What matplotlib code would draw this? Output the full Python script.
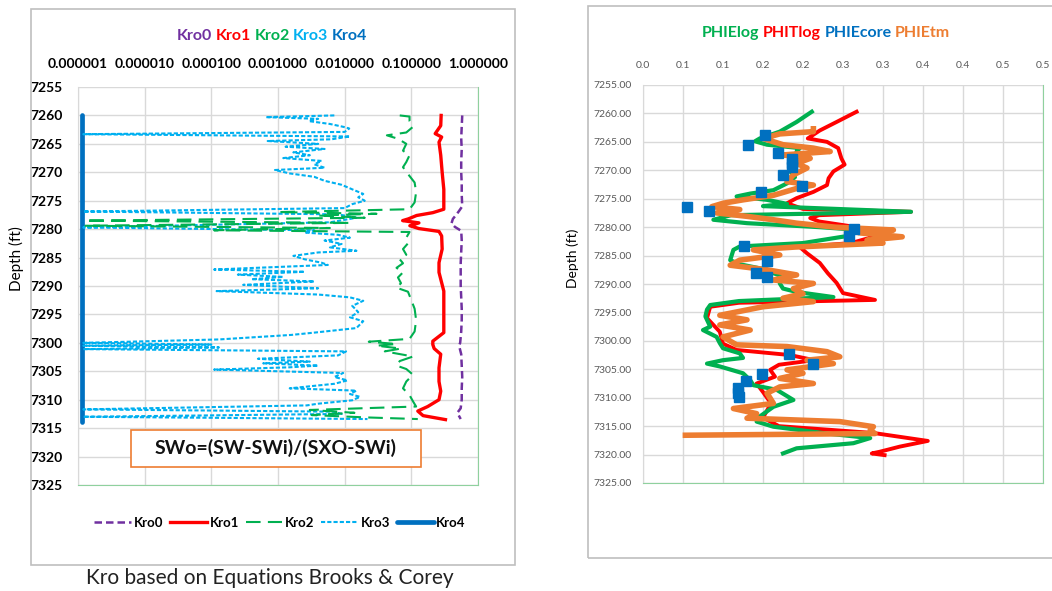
import matplotlib
matplotlib.use('Agg')
import matplotlib.pyplot as plt
from matplotlib.patches import Rectangle
from matplotlib.ticker import NullLocator

plt.rcParams['font.family'] = ['Lato', 'DejaVu Sans']

# ---------------- data: left panel (Kro vs depth) ----------------
depth_kro0 = [7260, 7262, 7264, 7266, 7268, 7270, 7272, 7274, 7276, 7276.8, 7277.5, 7278.2,
              7279.0, 7279.6, 7280.3, 7282, 7284, 7286, 7288, 7290, 7292, 7294, 7296, 7298,
              7300, 7300.5, 7302, 7304, 7306, 7308, 7310, 7311.5, 7312.3, 7313.4]
kro0 = [0.58, 0.57, 0.56, 0.57, 0.56, 0.56, 0.57, 0.57, 0.58, 0.52, 0.47, 0.42,
        0.40, 0.45, 0.56, 0.57, 0.56, 0.55, 0.55, 0.55, 0.56, 0.57, 0.57, 0.56,
        0.54, 0.52, 0.56, 0.57, 0.58, 0.57, 0.57, 0.55, 0.49, 0.55]

depth_kro1 = [7260.0, 7261.8, 7263.2, 7263.8, 7264.7, 7267.0, 7270.0, 7273.0, 7276.5, 7277.1,
              7277.6, 7278.2, 7278.5, 7278.9, 7279.4, 7279.9, 7280.4, 7281.2, 7283.5, 7285.9,
              7287.6, 7290.9, 7294.7, 7298.2, 7299.7, 7300.3, 7301.0, 7302.0, 7304.4, 7306.8,
              7308.5, 7310.0, 7311.2, 7312.0, 7312.8, 7313.5]
kro1 = [0.28, 0.276, 0.228, 0.285, 0.26, 0.276, 0.29, 0.307, 0.307, 0.21,
        0.12, 0.09, 0.074, 0.13, 0.095, 0.13, 0.26, 0.285, 0.29, 0.26,
        0.26, 0.307, 0.307, 0.307, 0.21, 0.21, 0.22, 0.276, 0.26, 0.26,
        0.276, 0.26, 0.176, 0.125, 0.15, 0.325]

depth_kro2 = [7260.0, 7260.2, 7261.0, 7262.0, 7263.0, 7263.5, 7264.1, 7265.0, 7266.2, 7267.0,
              7268.2, 7269.1, 7270.3, 7271.8, 7273.5, 7275.3, 7276.5, 7277.0, 7277.3, 7277.6,
              7278.0, 7278.5, 7278.9, 7279.4, 7279.8, 7280.2, 7280.5, 7281.5, 7282.5, 7283.5,
              7284.5, 7285.3, 7286.0, 7286.8, 7287.6, 7288.5, 7289.5, 7290.3, 7291.0, 7292.5,
              7294.0, 7296.0, 7298.0, 7299.3, 7299.8, 7300.2, 7300.5, 7301.0, 7301.5, 7302.4,
              7303.2, 7304.0, 7304.6, 7305.6, 7306.8, 7308.0, 7309.2, 7310.3, 7311.2, 7311.8,
              7312.3, 7312.7, 7313.1, 7313.4]
kro2 = [0.067, 0.094, 0.094, 0.106, 0.084, 0.043, 0.063, 0.084, 0.075, 0.094,
        0.084, 0.075, 0.089, 0.112, 0.118, 0.112, 0.094, 0.001, 0.03, 0.004,
        0.02, 1.3e-6, 0.012, 1.3e-6, 0.006, 1.1e-4, 0.094, 0.084, 0.089, 0.075,
        0.084, 0.067, 0.075, 0.06, 0.075, 0.063, 0.07, 0.06, 0.089, 0.1,
        0.112, 0.118, 0.112, 0.094, 0.023, 0.06, 0.03, 0.07, 0.04, 0.106,
        0.067, 0.06, 0.084, 0.106, 0.084, 0.075, 0.094, 0.106, 0.118, 0.003,
        0.014, 0.0032, 0.0195, 0.125]

depth_kro3 = [7260.0, 7260.3, 7260.6, 7261.0, 7261.5, 7262.0, 7262.3, 7262.9, 7263.3, 7263.7,
              7264.2, 7264.5, 7265.0, 7265.5, 7265.9, 7266.5, 7267.0, 7267.5, 7268.0, 7268.6,
              7269.2, 7269.6, 7270.2, 7270.8, 7271.5, 7272.2, 7273.0, 7273.8, 7274.4, 7275.0,
              7275.6, 7276.3, 7276.9, 7277.4, 7278.0, 7278.8, 7279.7, 7280.2, 7280.6, 7281.0,
              7281.5, 7282.0, 7282.6, 7283.2, 7283.8, 7284.1, 7284.7, 7285.3, 7285.9, 7286.3,
              7287.1, 7287.5, 7288.0, 7288.4, 7288.8, 7289.2, 7289.8, 7290.4, 7290.9, 7291.5,
              7292.0, 7292.6, 7293.5, 7294.6, 7295.5, 7296.2, 7297.4, 7298.2, 7298.6, 7299.4,
              7300.0, 7300.3, 7300.5, 7300.8, 7301.1, 7301.5, 7302.2, 7302.8, 7303.3, 7303.6,
              7304.0, 7304.3, 7304.7, 7305.3, 7306.0, 7306.6, 7307.2, 7308.0, 7308.4, 7309.0,
              7309.5, 7310.1, 7310.7, 7311.0, 7311.7, 7312.1, 7312.5, 7313.0, 7313.4]
kro3 = [0.007, 0.00066, 0.004, 0.0029, 0.006, 0.0095, 0.0117, 0.01, 1.2e-6, 0.012,
        0.0063, 0.0007, 0.004, 0.0013, 0.005, 0.0017, 0.003, 0.0012, 0.0045, 0.0035,
        0.005, 0.0009, 0.0015, 0.0035, 0.005, 0.009, 0.013, 0.019, 0.016, 0.02,
        0.013, 0.01, 1.2e-6, 0.008, 0.015, 0.006, 1.2e-6, 0.0035, 0.0025, 0.008,
        0.012, 0.005, 0.009, 0.006, 0.015, 0.004, 0.0017, 0.0025, 0.0045, 0.0056,
        1.1e-4, 0.0025, 0.00025, 0.0012, 0.0004, 0.0035, 0.0003, 0.004, 0.00012, 0.004,
        0.012, 0.019, 0.013, 0.016, 0.012, 0.019, 0.015, 0.0035, 0.0016, 0.00013,
        1.2e-6, 0.0001, 1.2e-6, 0.00013, 1.2e-6, 0.0105, 0.008, 0.0005, 0.003, 0.0006,
        0.004, 0.0015, 0.00011, 0.0095, 0.007, 0.011, 0.007, 0.0015, 0.015, 0.012,
        0.017, 0.013, 0.004, 0.0027, 1.2e-6, 0.0067, 0.009, 1.2e-6, 0.022]

depth_kro4 = [7260, 7314]
kro4 = [1.15e-6, 1.15e-6]

kro_ticks = [1e-6, 1e-5, 1e-4, 1e-3, 1e-2, 1e-1, 1.0]
depth_ticks = list(range(7255, 7330, 5))

# ---------------- data: right panel (porosity vs depth) ----------------
depth_phie = [7259.7, 7261.5, 7263.2, 7264.4, 7264.9, 7265.5, 7266.1, 7266.7, 7267.9, 7269.6,
              7270.2, 7271.2, 7272.3, 7273.5, 7274.1, 7274.6, 7275.2, 7275.9, 7276.3, 7277.3,
              7277.9, 7278.7, 7279.3, 7280.0, 7280.4, 7281.5, 7282.8, 7283.4, 7284.0, 7285.8,
              7286.5, 7287.5, 7288.1, 7288.7, 7289.9, 7290.8, 7291.4, 7292.3, 7293.0, 7293.7,
              7294.5, 7295.7, 7297.5, 7298.1, 7299.3, 7300.4, 7301.3, 7302.2, 7303.0, 7303.4,
              7304.0, 7304.5, 7305.7, 7306.9, 7307.8, 7308.6, 7310.4, 7311.6, 7313.3, 7314.2,
              7315.1, 7316.3, 7317.1, 7318.0, 7318.9, 7319.8]
phie_log = [0.211, 0.192, 0.171, 0.146, 0.14, 0.155, 0.196, 0.192, 0.2, 0.188,
            0.184, 0.19, 0.18, 0.163, 0.134, 0.117, 0.155, 0.18, 0.15, 0.335,
            0.11, 0.088, 0.13, 0.22, 0.262, 0.258, 0.2, 0.121, 0.113, 0.109,
            0.12, 0.155, 0.163, 0.175, 0.171, 0.175, 0.192, 0.238, 0.12, 0.084,
            0.08, 0.078, 0.084, 0.075, 0.092, 0.096, 0.1, 0.121, 0.125, 0.1,
            0.08, 0.096, 0.125, 0.134, 0.138, 0.167, 0.188, 0.163, 0.146, 0.142,
            0.163, 0.23, 0.284, 0.263, 0.192, 0.175]

depth_phit = [7259.7, 7261.5, 7263.0, 7264.4, 7265.0, 7266.1, 7267.9, 7269.0, 7270.2, 7271.4,
              7272.6, 7273.8, 7274.9, 7275.8, 7276.8, 7277.3, 7277.9, 7278.4, 7279.0, 7280.0,
              7281.7, 7282.8, 7283.5, 7284.6, 7286.3, 7288.1, 7289.8, 7291.6, 7292.8, 7293.3,
              7294.0, 7296.0, 7298.4, 7300.5, 7301.6, 7302.5, 7303.4, 7304.2, 7305.1, 7306.3,
              7307.5, 7309.0, 7311.0, 7313.5, 7315.0, 7316.2, 7317.6, 7318.6, 7319.5, 7319.8,
              7320.1]
phit_log = [0.267, 0.242, 0.221, 0.206, 0.23, 0.244, 0.248, 0.252, 0.238, 0.232,
            0.23, 0.213, 0.192, 0.18, 0.2, 0.335, 0.22, 0.209, 0.22, 0.267,
            0.288, 0.26, 0.196, 0.205, 0.221, 0.231, 0.242, 0.25, 0.29, 0.12,
            0.084, 0.08, 0.096, 0.1, 0.117, 0.184, 0.214, 0.17, 0.159, 0.165,
            0.142, 0.15, 0.16, 0.15, 0.17, 0.288, 0.356, 0.321, 0.296, 0.286,
            0.302]

depth_tm = [7262.7, 7263.2, 7263.6, 7264.4, 7265.5, 7266.1, 7266.7, 7267.3, 7267.9, 7268.8,
            7269.6, 7270.8, 7272.0, 7272.6, 7273.2, 7274.4, 7275.2, 7275.8, 7276.4, 7276.9,
            7277.5, 7278.1, 7278.7, 7279.3, 7280.0, 7280.5, 7281.0, 7281.7, 7282.3, 7282.8,
            7283.5, 7284.0, 7284.9, 7285.8, 7286.7, 7287.5, 7288.4, 7289.3, 7289.9, 7290.8,
            7291.7, 7292.5, 7293.1, 7294.0, 7295.5, 7296.3, 7297.2, 7298.1, 7299.3, 7300.7,
            7301.0, 7301.9, 7302.8, 7303.4, 7304.0, 7305.1, 7305.7, 7306.6, 7307.5, 7308.1,
            7309.2, 7311.0, 7311.9, 7312.8, 7313.6, 7314.2, 7315.1, 7315.7, 7316.3, 7316.6]
phie_tm = [0.213, 0.213, 0.171, 0.15, 0.175, 0.213, 0.234, 0.175, 0.209, 0.192,
           0.205, 0.188, 0.18, 0.213, 0.192, 0.163, 0.125, 0.1, 0.086, 0.121,
           0.092, 0.13, 0.163, 0.192, 0.24, 0.313, 0.27, 0.324, 0.28, 0.3,
           0.19, 0.138, 0.171, 0.121, 0.109, 0.155, 0.192, 0.163, 0.213, 0.188,
           0.2, 0.175, 0.213, 0.15, 0.096, 0.13, 0.096, 0.134, 0.1, 0.117,
           0.18, 0.23, 0.246, 0.205, 0.238, 0.18, 0.2, 0.171, 0.213, 0.171,
           0.155, 0.163, 0.113, 0.142, 0.13, 0.246, 0.288, 0.284, 0.29, 0.053]

depth_core = [7263.8, 7265.55, 7266.9, 7268.0, 7268.8, 7269.5, 7270.8, 7272.8, 7273.9, 7276.5,
              7277.1, 7280.3, 7281.6, 7283.4, 7285.9, 7288.0, 7288.7, 7302.3, 7304.1, 7305.8,
              7307.0, 7308.3, 7309.1, 7309.9]
phie_core = [0.1525, 0.131, 0.169, 0.186, 0.186, 0.186, 0.175, 0.199, 0.148, 0.055,
             0.083, 0.264, 0.258, 0.126, 0.155, 0.141, 0.155, 0.182, 0.212, 0.149,
             0.129, 0.119, 0.119, 0.12]

phi_ticks = [0.0, 0.05, 0.1, 0.15, 0.2, 0.25, 0.3, 0.35, 0.4, 0.45, 0.5]
phi_labels = ['0.0', '0.1', '0.1', '0.2', '0.2', '0.3', '0.3', '0.4', '0.4', '0.5', '0.5']

# ---------------- figure ----------------
W, H = 1052, 591
fig = plt.figure(figsize=(W / 100, H / 100), dpi=100)

grid_c = '#D9D9D9'
spine_g = '#8FD19E'
purple, red, green, cyan, blue, orange = '#7030A0', '#FF0000', '#00B050', '#00B0F0', '#0070C0', '#ED7D31'

# panel frames
fig.patches.append(Rectangle((31 / W, 1 - 565 / H), 484 / W, 556 / H, transform=fig.transFigure,
                             fill=False, ec='#BFBFBF', lw=1.2, zorder=0))
fig.patches.append(Rectangle((588 / W, 1 - 558 / H), 480 / W, 552 / H, transform=fig.transFigure,
                             fill=False, ec='#BFBFBF', lw=1.2, zorder=0))


def pix_axes(x0, y0, x1, y1):
    return fig.add_axes([x0 / W, 1 - y1 / H, (x1 - x0) / W, (y1 - y0) / H])


def colour_words(words, colours, xc, y, size, weight='bold'):
    texts = [fig.text(0, 1 - y / H, w, color=c, fontsize=size, fontweight=weight,
                      va='center', ha='left') for w, c in zip(words, colours)]
    fig.canvas.draw()
    r = fig.canvas.get_renderer()
    widths = [t.get_window_extent(r).width for t in texts]
    gap = size * 0.3
    x = xc - (sum(widths) + gap * (len(words) - 1)) / 2
    for t, w in zip(texts, widths):
        t.set_x(x / W)
        x += w + gap


# ---- left panel ----
axL = pix_axes(78, 87, 478, 485)
axL.plot(kro4, depth_kro4, color=blue, lw=3.4, solid_capstyle='round', label='Kro4', zorder=2)
axL.plot(kro3, depth_kro3, color=cyan, lw=1.5, dashes=(2, 1), label='Kro3', zorder=3)
axL.plot(kro2, depth_kro2, color=green, lw=1.5, dashes=(7, 3.5), label='Kro2', zorder=4)
axL.plot(kro1, depth_kro1, color=red, lw=2.4, label='Kro1', zorder=5)
axL.plot(kro0, depth_kro0, color=purple, lw=1.8, dashes=(3, 1.6), label='Kro0', zorder=6)

axL.set_xscale('log')
axL.set_xlim(1e-6, 1)
axL.set_ylim(7325, 7255)
axL.set_xticks(kro_ticks)
axL.set_xticklabels(['%.6f' % v for v in kro_ticks])
axL.xaxis.set_minor_locator(NullLocator())
axL.set_yticks(depth_ticks)
axL.xaxis.tick_top()
axL.tick_params(axis='both', length=0, labelsize=10)
axL.tick_params(axis='x', pad=12)
axL.tick_params(axis='y', pad=11)
for lab in axL.get_xticklabels() + axL.get_yticklabels():
    lab.set_fontweight('bold')
axL.grid(True, color=grid_c, lw=1)
axL.set_axisbelow(True)
axL.spines['top'].set_visible(False)
axL.spines['left'].set_color(grid_c)
axL.spines['right'].set_color(spine_g)
axL.spines['bottom'].set_color(spine_g)

handles, labels = axL.get_legend_handles_labels()
order = [4, 3, 2, 1, 0]
axL.legend([handles[i] for i in order], [labels[i] for i in order], loc='center',
           bbox_to_anchor=(0.505, -0.095), ncol=5, frameon=False, handlelength=2.8,
           columnspacing=0.5, handletextpad=0.2, prop={'weight': 'bold', 'size': 9.5})

axL.add_patch(Rectangle((0.1325, 0.045), 0.725, 0.093, transform=axL.transAxes,
                        fc='white', ec=orange, lw=1.2, zorder=10, clip_on=False))
axL.text(0.495, 0.092, 'SWo=(SW-SWi)/(SXO-SWi)', transform=axL.transAxes, ha='center',
         va='center', fontsize=14, fontweight='bold', color='#111111', zorder=11)

fig.text(16 / W, 1 - 259 / H, 'Depth (ft)', rotation=90, ha='center', va='center', fontsize=11)
fig.text(270 / W, 1 - 578 / H, 'Kro based on Equations Brooks & Corey', ha='center',
         va='center', fontsize=15, color='#222222')

# ---- right panel ----
axR = pix_axes(643, 85, 1043, 483)
axR.plot(phit_log, depth_phit, color=red, lw=2.8, zorder=3)
axR.plot(phie_log, depth_phie, color=green, lw=3, zorder=4)
axR.plot(phie_tm, depth_tm, color=orange, lw=4, zorder=5)
axR.plot(phie_core, depth_core, 's', color=blue, ms=6.5, zorder=6)

axR.set_xlim(0, 0.5)
axR.set_ylim(7325, 7255)
axR.set_xticks(phi_ticks)
axR.set_xticklabels(phi_labels)
axR.set_yticks(depth_ticks)
axR.set_yticklabels(['%.2f' % v for v in depth_ticks])
axR.xaxis.tick_top()
axR.tick_params(axis='both', length=0, labelsize=7.5, labelcolor='#595959')
axR.tick_params(axis='x', pad=11)
axR.tick_params(axis='y', pad=8)
axR.grid(True, color=grid_c, lw=1)
axR.set_axisbelow(True)
axR.spines['top'].set_visible(False)
axR.spines['left'].set_color(grid_c)
axR.spines['right'].set_color(spine_g)
axR.spines['bottom'].set_color(spine_g)

fig.text(573 / W, 1 - 258 / H, 'Depth (ft)', rotation=90, ha='center', va='center', fontsize=10)

colour_words(['Kro0', 'Kro1', 'Kro2', 'Kro3', 'Kro4'], [purple, red, green, cyan, blue], 272, 36, 11.5)
colour_words(['PHIElog', 'PHITlog', 'PHIEcore', 'PHIEtm'], [green, red, blue, orange], 826, 33, 11.5)

fig.savefig('out.png', dpi=100)
